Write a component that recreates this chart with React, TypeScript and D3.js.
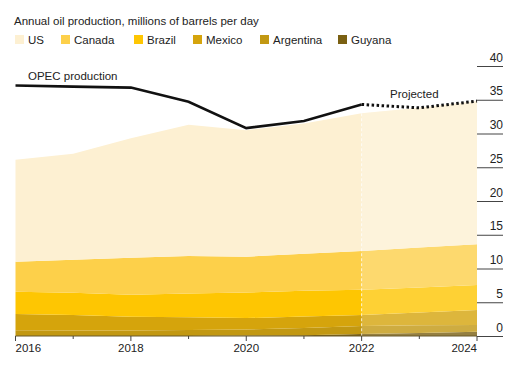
import React from "react";
import * as d3 from "d3";

// years and values (millions of barrels per day)
const years = [2016, 2017, 2018, 2019, 2020, 2021, 2022, 2023, 2024];
const us = [15.1, 15.7, 17.7, 19.45, 18.75, 19.3, 20.4, 20.7, 21.2];
const canada = [4.45, 4.9, 5.5, 5.55, 5.3, 5.5, 5.75, 5.9, 6.05];
const brazil = [3.29, 3.3, 3.25, 3.53, 3.8, 3.8, 3.75, 3.7, 3.7];
const mexico = [2.41, 2.28, 2.05, 1.89, 1.67, 1.73, 1.6, 1.9, 2.21];
const argentina = [0.85, 0.82, 0.8, 0.88, 0.9, 1.05, 1.2, 1.15, 1.0];
const guyana = [0, 0, 0, 0, 0.08, 0.12, 0.3, 0.45, 0.64];
const opec = [37.1, 36.95, 36.8, 34.7, 30.8, 31.85, 34.3, 33.8, 34.8];
const yTicks = [0, 5, 10, 15, 20, 25, 30, 35, 40];
const xLabels = [2016, 2018, 2020, 2022, 2024];
const projectedFrom = 2022;

const seriesNames = ["US", "Canada", "Brazil", "Mexico", "Argentina", "Guyana"];
const seriesColors = ["#fdf0d2", "#fdd04a", "#fec602", "#d5a40c", "#c29812", "#7a6012"];
const seriesValues = [us, canada, brazil, mexico, argentina, guyana];

const font = "'Liberation Sans', Arial, sans-serif";

export default function App() {
  const width = 526;
  const height = 368;

  const x = d3.scaleLinear().domain([2016, 2024]).range([15.5, 477]);
  const y = d3.scaleLinear().domain([0, 40]).range([336, 66]);

  const rows = years.map((yr, i) => {
    const r: any = { year: yr };
    seriesNames.forEach((n, j) => (r[n] = seriesValues[j][i]));
    return r;
  });
  // stack from bottom: Guyana first, US on top
  const stackKeys = [...seriesNames].reverse();
  const stacked = d3.stack().keys(stackKeys)(rows);

  const area = d3
    .area<any>()
    .x((d) => x(d.data.year))
    .y0((d) => y(d[0]))
    .y1((d) => y(d[1]));

  const opecPts = years.map((yr, i) => [yr, opec[i]] as [number, number]);
  const line = d3
    .line<[number, number]>()
    .x((d) => x(d[0]))
    .y((d) => y(d[1]));
  const histLine = opecPts.filter((d) => d[0] <= projectedFrom);
  const projLine = opecPts.filter((d) => d[0] >= projectedFrom);

  const total = years.map((_, i) => d3.sum(seriesValues, (s) => s[i]));
  const projIdx = years.indexOf(projectedFrom);

  const legendX = [15, 61, 134, 193, 260, 338];

  return (
    <svg
      width={width}
      height={height}
      style={{ position: "absolute", left: 0, top: 0, background: "#fff" }}
      fontFamily={font}
    >
      <text x={14} y={25} fontSize={11.5} fill="#222">
        Annual oil production, millions of barrels per day
      </text>
      {seriesNames.map((n, i) => (
        <g key={n} transform={`translate(${legendX[i]},35)`}>
          <rect width={9} height={9} fill={seriesColors[i]} />
          <text x={13} y={8.5} fontSize={11.5} fill="#222">
            {n}
          </text>
        </g>
      ))}

      {stacked.map((s) => {
        const idx = seriesNames.indexOf(s.key);
        return <path key={s.key} d={area(s) || ""} fill={seriesColors[idx]} />;
      })}

      {/* projected years are washed out */}
      <path
        d={
          d3
            .area<number>()
            .x((_, i) => x(years[projIdx + i]))
            .y0(y(0))
            .y1((d) => y(d))(total.slice(projIdx)) || ""
        }
        fill="#fff"
        opacity={0.2}
      />
      <line
        x1={x(projectedFrom)}
        x2={x(projectedFrom)}
        y1={y(total[projIdx])}
        y2={y(0)}
        stroke="#fff"
        strokeWidth={1}
        strokeDasharray="3,2"
        opacity={0.8}
      />

      {/* x axis */}
      <line x1={x(2016)} x2={x(2024)} y1={y(0)} y2={y(0)} stroke="#6b5a2a" strokeWidth={1} />
      {years.map((yr) => (
        <line
          key={yr}
          x1={x(yr)}
          x2={x(yr)}
          y1={y(0)}
          y2={y(0) + (xLabels.includes(yr) ? 5 : 3)}
          stroke="#444"
          strokeWidth={1}
        />
      ))}
      {xLabels.map((yr, i) => (
        <text
          key={yr}
          x={x(yr)}
          y={352}
          fontSize={11.5}
          fill="#222"
          textAnchor={i === 0 ? "start" : i === xLabels.length - 1 ? "end" : "middle"}
        >
          {yr}
        </text>
      ))}

      {/* y axis on right */}
      {yTicks.map((t) => (
        <g key={t}>
          <line x1={477} x2={503} y1={y(t) + 0.5} y2={y(t) + 0.5} stroke="#444" strokeWidth={1} />
          <text x={503} y={y(t) - 4.5} fontSize={12} fill="#222" textAnchor="end">
            {t}
          </text>
        </g>
      ))}

      {/* OPEC line */}
      <path d={line(histLine) || ""} fill="none" stroke="#111" strokeWidth={2.6} />
      <path
        d={line(projLine) || ""}
        fill="none"
        stroke="#111"
        strokeWidth={3}
        strokeDasharray="2.5,2.5"
      />
      <text x={28} y={80} fontSize={11.5} fill="#222">
        OPEC production
      </text>
      <text x={390} y={98} fontSize={11.5} fill="#222">
        Projected
      </text>
    </svg>
  );
}
